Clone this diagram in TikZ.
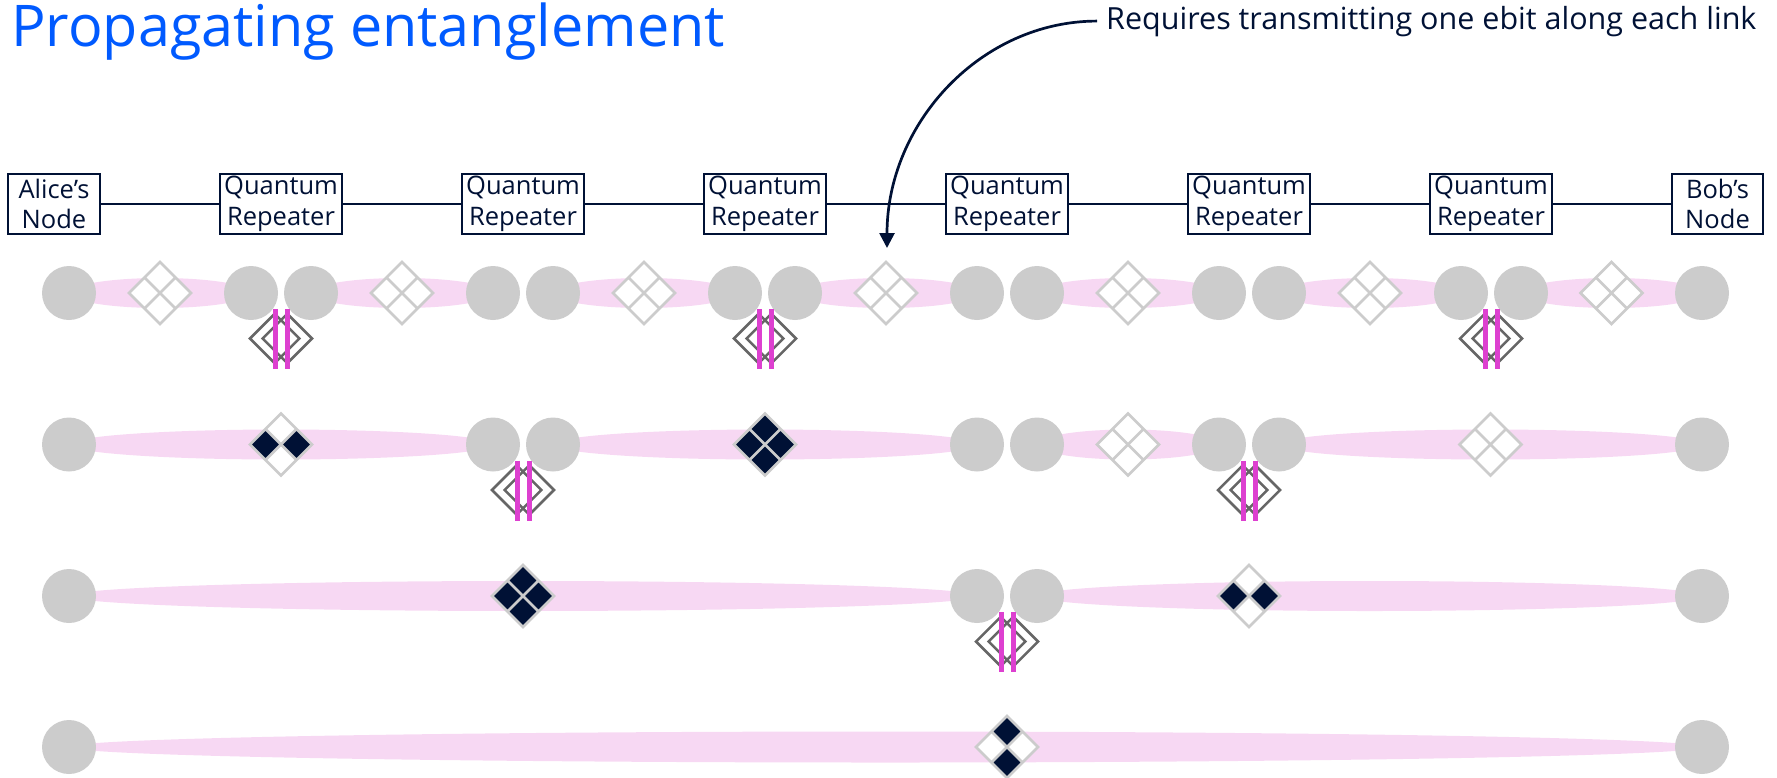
\documentclass[tikz,border=0pt]{standalone}
\usepackage{fontspec}
\setmainfont{Open Sans}
\usetikzlibrary{arrows.meta}
\definecolor{ink}{HTML}{001135}
\definecolor{titleblue}{HTML}{005AFF}
\definecolor{qgrey}{HTML}{CCCCCC}
\definecolor{mgrey}{HTML}{666666}
\definecolor{epink}{HTML}{F7D8F3}
\definecolor{barpink}{HTML}{DD40D0}
\newcommand{\labfont}{\fontsize{25.5}{30.5}\selectfont}
\tikzset{
  box/.style={draw=ink, line width=2.7pt, fill=white, text=ink, font=\labfont,
    minimum height=60pt, align=center, inner sep=0pt},
  wire/.style={draw=ink, line width=2.7pt},
  qubit/.style={circle, fill=qgrey, minimum size=54pt, inner sep=0pt},
  link/.style={fill=epink},
  ebitline/.style={draw=qgrey, line width=2.6pt, line join=miter},
  measline/.style={draw=mgrey, line width=2.5pt, line join=miter},
  swapbar/.style={draw=barpink, line width=5pt}
}
% one ebit: top, right, bottom, left cell colours
\newcommand{\ebit}[6]{%
  \begin{scope}[shift={(#1,#2)}]
    \fill[#3] (0,-31) -- (15.5,-15.5) -- (0,0) -- (-15.5,-15.5) -- cycle;
    \fill[#4] (15.5,-15.5) -- (31,0) -- (15.5,15.5) -- (0,0) -- cycle;
    \fill[#5] (0,0) -- (15.5,15.5) -- (0,31) -- (-15.5,15.5) -- cycle;
    \fill[#6] (-15.5,-15.5) -- (0,0) -- (-15.5,15.5) -- (-31,0) -- cycle;
    \draw[ebitline] (0,-31) -- (31,0) -- (0,31) -- (-31,0) -- cycle
      (-15.5,-15.5) -- (15.5,15.5) (15.5,-15.5) -- (-15.5,15.5);
  \end{scope}}
% Bell measurement under a repeater
\newcommand{\bsm}[2]{%
  \begin{scope}[shift={(#1,#2+45.5)}]
    \draw[measline] (-6.3,-24.7) -- (18.4,0) -- (-6.3,24.7) -- (-31,0) -- cycle;
    \draw[measline] (6.3,-24.7) -- (31,0) -- (6.3,24.7) -- (-18.4,0) -- cycle;
  \end{scope}}
\newcommand{\bsmbars}[2]{%
  \draw[swapbar] (#1-6,#2+16) -- (#1-6,#2+76);
  \draw[swapbar] (#1+6,#2+16) -- (#1+6,#2+76);}

\begin{document}
\begin{tikzpicture}[x=1pt,y=-1pt]
  \useasboundingbox (0,0) rectangle (1777,777);

  \node[anchor=base west, text=titleblue, font=\fontsize{57.5}{62}\selectfont, inner sep=0pt] (title) at (11,46) {Propagating entanglement};

  \node[box, minimum width=92pt] (alice) at (54,204) {Alice’s\\Node};
  \node[box, minimum width=122pt] (rep1) at (281,204) {Quantum\\Repeater};
  \node[box, minimum width=122pt] (rep2) at (523,204) {Quantum\\Repeater};
  \node[box, minimum width=122pt] (rep3) at (765,204) {Quantum\\Repeater};
  \node[box, minimum width=122pt] (rep4) at (1007,204) {Quantum\\Repeater};
  \node[box, minimum width=122pt] (rep5) at (1249,204) {Quantum\\Repeater};
  \node[box, minimum width=122pt] (rep6) at (1491,204) {Quantum\\Repeater};
  \node[box, minimum width=91pt] (bob) at (1717.5,204) {Bob’s\\Node};
  \draw[wire] (alice) -- (rep1) -- (rep2) -- (rep3) -- (rep4) -- (rep5) -- (rep6) -- (bob);

  \node[anchor=base west, text=ink, font=\fontsize{30.5}{34}\selectfont, inner xsep=9pt, inner ysep=0pt] (req) at (1097,29) {Requires transmitting one ebit along each link};
  \coordinate (tip) at (887,248);
  \draw[wire, -{Triangle[length=15pt,width=15pt]}] (req.west) .. controls +(-116,0) and +(0,-125) .. (tip);

  % links
  \fill[link] (160,293) ellipse [x radius=91, y radius=15];
  \fill[link] (402,293) ellipse [x radius=91, y radius=15];
  \fill[link] (644,293) ellipse [x radius=91, y radius=15];
  \fill[link] (886,293) ellipse [x radius=91, y radius=15];
  \fill[link] (1128,293) ellipse [x radius=91, y radius=15];
  \fill[link] (1370,293) ellipse [x radius=91, y radius=15];
  \fill[link] (1611.5,293) ellipse [x radius=90.5, y radius=15];
  \fill[link] (281,444.5) ellipse [x radius=212, y radius=15];
  \fill[link] (765,444.5) ellipse [x radius=212, y radius=15];
  \fill[link] (1128,444.5) ellipse [x radius=91, y radius=15];
  \fill[link] (1490.5,444.5) ellipse [x radius=211.5, y radius=15];
  \fill[link] (523,596) ellipse [x radius=454, y radius=15];
  \fill[link] (1369.5,596) ellipse [x radius=332.5, y radius=15];
  \fill[link] (885.5,747) ellipse [x radius=816.5, y radius=15.5];

  \ebit{160}{293}{white}{white}{white}{white}
  \ebit{402}{293}{white}{white}{white}{white}
  \ebit{644}{293}{white}{white}{white}{white}
  \ebit{886}{293}{white}{white}{white}{white}
  \ebit{1128}{293}{white}{white}{white}{white}
  \ebit{1370}{293}{white}{white}{white}{white}
  \ebit{1611.5}{293}{white}{white}{white}{white}
  \ebit{281}{444.5}{white}{ink}{white}{ink}
  \ebit{765}{444.5}{ink}{ink}{ink}{ink}
  \ebit{1128}{444.5}{white}{white}{white}{white}
  \ebit{1490.5}{444.5}{white}{white}{white}{white}
  \ebit{523}{596}{ink}{ink}{ink}{ink}
  \ebit{1249}{596}{white}{ink}{white}{ink}
  \ebit{1007}{747}{ink}{white}{ink}{white}

  \bsm{281}{293}
  \bsm{765}{293}
  \bsm{1491}{293}
  \bsm{523}{444.5}
  \bsm{1249}{444.5}
  \bsm{1007}{596}

  % qubits
  \node[qubit] (r1n1) at (69,293) {};
  \node[qubit] (r1n2) at (251,293) {};
  \node[qubit] (r1n3) at (311,293) {};
  \node[qubit] (r1n4) at (493,293) {};
  \node[qubit] (r1n5) at (553,293) {};
  \node[qubit] (r1n6) at (735,293) {};
  \node[qubit] (r1n7) at (795,293) {};
  \node[qubit] (r1n8) at (977,293) {};
  \node[qubit] (r1n9) at (1037,293) {};
  \node[qubit] (r1n10) at (1219,293) {};
  \node[qubit] (r1n11) at (1279,293) {};
  \node[qubit] (r1n12) at (1461,293) {};
  \node[qubit] (r1n13) at (1521,293) {};
  \node[qubit] (r1n14) at (1702,293) {};
  \node[qubit] (r2n1) at (69,444.5) {};
  \node[qubit] (r2n2) at (493,444.5) {};
  \node[qubit] (r2n3) at (553,444.5) {};
  \node[qubit] (r2n4) at (977,444.5) {};
  \node[qubit] (r2n5) at (1037,444.5) {};
  \node[qubit] (r2n6) at (1219,444.5) {};
  \node[qubit] (r2n7) at (1279,444.5) {};
  \node[qubit] (r2n8) at (1702,444.5) {};
  \node[qubit] (r3n1) at (69,596) {};
  \node[qubit] (r3n2) at (977,596) {};
  \node[qubit] (r3n3) at (1037,596) {};
  \node[qubit] (r3n4) at (1702,596) {};
  \node[qubit] (r4n1) at (69,747) {};
  \node[qubit] (r4n2) at (1702,747) {};

  \bsmbars{281}{293}
  \bsmbars{765}{293}
  \bsmbars{1491}{293}
  \bsmbars{523}{444.5}
  \bsmbars{1249}{444.5}
  \bsmbars{1007}{596}
\end{tikzpicture}
\end{document}
